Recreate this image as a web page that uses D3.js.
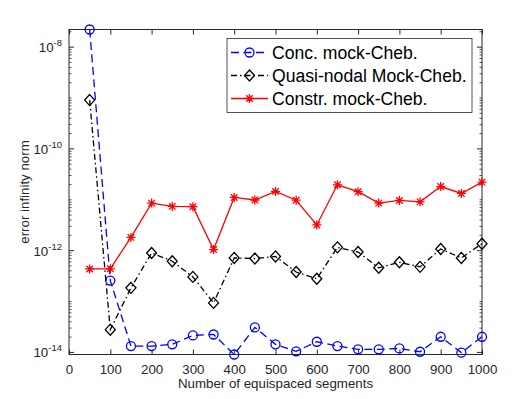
<!DOCTYPE html>
<html>
<head>
<meta charset="utf-8">
<script src="https://cdn.jsdelivr.net/npm/d3@7"></script>
<style>
  body { margin: 0; background: #fff; }
  svg { font-family: "Liberation Sans", Arial, sans-serif; }
</style>
</head>
<body>
<div id="vis"></div>
<script>
const FRAME_WIDTH = 532;
const FRAME_HEIGHT = 399;
const MARGINS = {left: 69, right: 50, top: 29.5, bottom: 44.5};

const VIS_WIDTH = FRAME_WIDTH - MARGINS.left - MARGINS.right;
const VIS_HEIGHT = FRAME_HEIGHT - MARGINS.top - MARGINS.bottom;

// data
const segments = [50, 100, 150, 200, 250, 300, 350, 400, 450, 500,
                  550, 600, 650, 700, 750, 800, 850, 900, 950, 1000];
const concErr = [2.22e-8, 2.58e-13, 1.33e-14, 1.33e-14, 1.44e-14, 2.16e-14, 2.25e-14, 9.1e-15, 3.1e-14, 1.44e-14,
                 1.05e-14, 1.62e-14, 1.33e-14, 1.15e-14, 1.15e-14, 1.2e-14, 1.03e-14, 2.03e-14, 9.9e-15, 2.03e-14];
const quasiErr = [9.1e-10, 2.8e-14, 1.86e-13, 9.0e-13, 6.2e-13, 3.05e-13, 9.4e-14, 7.2e-13, 7.0e-13, 7.7e-13,
                  3.8e-13, 2.8e-13, 1.16e-12, 9.4e-13, 4.6e-13, 5.9e-13, 4.8e-13, 1.08e-12, 7.2e-13, 1.37e-12];
const constrErr = [4.37e-13, 4.4e-13, 1.82e-12, 8.6e-12, 7.4e-12, 7.3e-12, 1.05e-12, 1.11e-11, 9.9e-12, 1.46e-11,
                   9.8e-12, 3.2e-12, 1.97e-11, 1.44e-11, 8.6e-12, 9.7e-12, 9.1e-12, 1.82e-11, 1.33e-11, 2.22e-11];
const seriesNames = ["Conc. mock-Cheb.", "Quasi-nodal Mock-Cheb.", "Constr. mock-Cheb."];
const xTicks = [0, 100, 200, 300, 400, 500, 600, 700, 800, 900, 1000];
const yTickExps = [-14, -12, -10, -8];

const AXIS_COLOR = "#262626";
const TICK_FONT = "13.3px";

const series = [
  {name: seriesNames[0], values: concErr, color: "#0000ff", dash: "8,4.5", marker: "circle"},
  {name: seriesNames[1], values: quasiErr, color: "#000000", dash: "6,3,1.5,3", marker: "diamond"},
  {name: seriesNames[2], values: constrErr, color: "#ff0000", dash: null, marker: "star"}
];

const svg = d3.select("#vis").append("svg")
  .attr("width", FRAME_WIDTH)
  .attr("height", FRAME_HEIGHT);

const allVals = concErr.concat(quasiErr, constrErr);
const x_scale = d3.scaleLinear().domain([0, 1000]).range([0, VIS_WIDTH]);
const y_scale = d3.scaleLog().domain(d3.extent(allVals)).range([VIS_HEIGHT, 0]);

const g = svg.append("g").attr("transform", `translate(${MARGINS.left},${MARGINS.top})`);

// x axis ticks (bottom + top, inward)
g.append("g")
  .attr("transform", `translate(0,${VIS_HEIGHT})`)
  .call(d3.axisBottom(x_scale).tickValues(xTicks).tickFormat(d3.format("d"))
          .tickSizeInner(-5).tickSizeOuter(0).tickPadding(10))
  .call(a => a.select(".domain").remove())
  .call(a => a.selectAll("line").attr("stroke", AXIS_COLOR))
  .call(a => a.selectAll("text").attr("fill", AXIS_COLOR).attr("font-size", TICK_FONT));

g.append("g")
  .call(d3.axisTop(x_scale).tickValues(xTicks).tickSizeInner(-5).tickSizeOuter(0).tickFormat(""))
  .call(a => a.select(".domain").remove())
  .call(a => a.selectAll("line").attr("stroke", AXIS_COLOR));

// y axis: major and minor log ticks
const minorTicks = [];
for (let e = -15; e <= -7; e++) {
  for (let d = 1; d <= 9; d++) {
    const v = d * Math.pow(10, e);
    if (v >= y_scale.domain()[0] && v <= y_scale.domain()[1] && !(d === 1 && e % 2 === 0)) minorTicks.push(v);
  }
}
const majorTicks = yTickExps.map(e => Math.pow(10, e));

[0, VIS_WIDTH].forEach((xPos, i) => {
  const dir = i === 0 ? 1 : -1;
  g.append("g").selectAll("line.minor")
    .data(minorTicks)
    .join("line")
      .attr("x1", xPos).attr("x2", xPos + dir * 2.5)
      .attr("y1", d => y_scale(d)).attr("y2", d => y_scale(d))
      .attr("stroke", AXIS_COLOR).attr("stroke-width", 0.8);
  g.append("g").selectAll("line.major")
    .data(majorTicks)
    .join("line")
      .attr("x1", xPos).attr("x2", xPos + dir * 5)
      .attr("y1", d => y_scale(d)).attr("y2", d => y_scale(d))
      .attr("stroke", AXIS_COLOR);
});

// y tick labels 10^e
const yLab = g.append("g").selectAll("text")
  .data(yTickExps)
  .join("text")
    .attr("x", -7)
    .attr("y", d => y_scale(Math.pow(10, d)) + 5)
    .attr("text-anchor", "end")
    .attr("fill", AXIS_COLOR)
    .attr("font-size", TICK_FONT);
yLab.append("tspan").text("10");
yLab.append("tspan").attr("dy", -6).attr("font-size", "9.5px").text(d => "-" + Math.abs(d));

// box
g.append("rect")
  .attr("width", VIS_WIDTH).attr("height", VIS_HEIGHT)
  .attr("fill", "none").attr("stroke", AXIS_COLOR).attr("stroke-width", 1);

// axis labels
svg.append("text")
  .attr("x", MARGINS.left + VIS_WIDTH / 2)
  .attr("y", FRAME_HEIGHT - 11)
  .attr("text-anchor", "middle")
  .attr("fill", AXIS_COLOR)
  .attr("font-size", TICK_FONT)
  .text("Number of equispaced segments");

svg.append("text")
  .attr("transform", `translate(29,${MARGINS.top + VIS_HEIGHT / 2}) rotate(-90)`)
  .attr("text-anchor", "middle")
  .attr("fill", AXIS_COLOR)
  .attr("font-size", TICK_FONT)
  .text("error infinity norm");

// markers
function drawMarker(sel, type, color) {
  if (type === "circle") {
    sel.append("circle").attr("r", 4.5).attr("fill", "none").attr("stroke", color).attr("stroke-width", 1.3);
  } else if (type === "diamond") {
    sel.append("path").attr("d", "M0,-5.5L5,0L0,5.5L-5,0Z").attr("fill", "none").attr("stroke", color).attr("stroke-width", 1.3);
  } else {
    const r = 4.5, k = r * 0.72;
    sel.append("path")
      .attr("d", `M${-r},0L${r},0M0,${-r}L0,${r}M${-k},${-k}L${k},${k}M${-k},${k}L${k},${-k}`)
      .attr("stroke", color).attr("stroke-width", 1.3);
  }
}

const line = d3.line()
  .x(d => x_scale(d[0]))
  .y(d => y_scale(d[1]));

series.forEach(s => {
  const pts = segments.map((x, i) => [x, s.values[i]]);
  g.append("path")
    .datum(pts)
    .attr("fill", "none")
    .attr("stroke", s.color)
    .attr("stroke-width", 1.3)
    .attr("stroke-dasharray", s.dash)
    .attr("d", line);
  g.append("g").selectAll("g")
    .data(pts)
    .join("g")
      .attr("transform", d => `translate(${x_scale(d[0])},${y_scale(d[1])})`)
      .each(function() { drawMarker(d3.select(this), s.marker, s.color); });
});

// legend
const LEG = {x: 227, y: 38.5, w: 245, h: 74};
const leg = svg.append("g");
leg.append("rect")
  .attr("x", LEG.x).attr("y", LEG.y).attr("width", LEG.w).attr("height", LEG.h)
  .attr("fill", "#fff").attr("stroke", AXIS_COLOR).attr("stroke-width", 0.8);
series.forEach((s, i) => {
  const yy = LEG.y + 14 + i * 23;
  leg.append("line")
    .attr("x1", LEG.x + 4).attr("x2", LEG.x + 41)
    .attr("y1", yy).attr("y2", yy)
    .attr("stroke", s.color).attr("stroke-width", 1.3)
    .attr("stroke-dasharray", s.dash);
  const m = leg.append("g").attr("transform", `translate(${LEG.x + 22.5},${yy})`);
  drawMarker(m, s.marker, s.color);
  leg.append("text")
    .attr("x", LEG.x + 45).attr("y", yy + 6)
    .attr("fill", "#000")
    .attr("font-size", "17.6px")
    .text(s.name);
});
</script>
</body>
</html>
